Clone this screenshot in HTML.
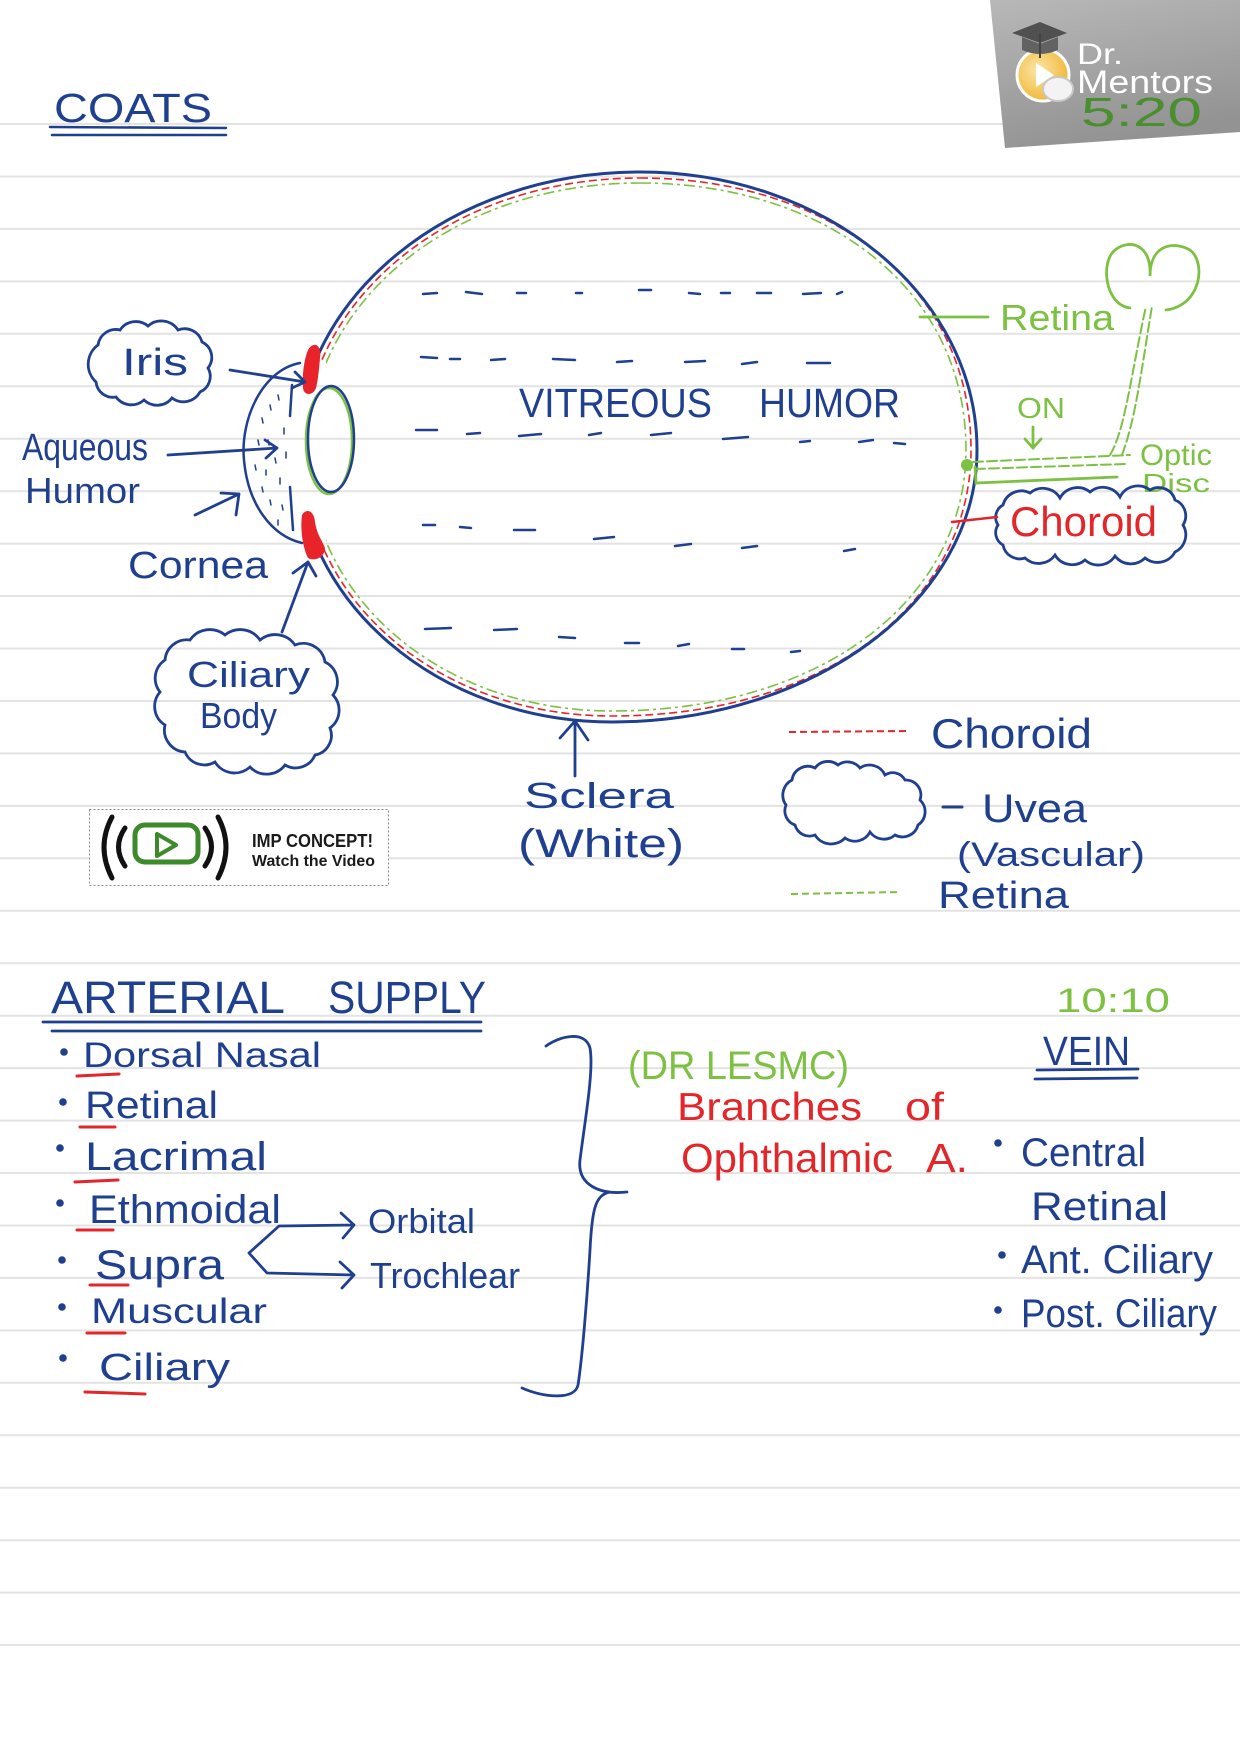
<!DOCTYPE html>
<html><head><meta charset="utf-8"><style>
html,body{margin:0;padding:0;background:#fff;}
svg{display:block;}
text{font-family:"Liberation Sans",sans-serif;}
</style></head><body>
<svg width="1240" height="1755" viewBox="0 0 1240 1755" xmlns="http://www.w3.org/2000/svg">
<defs>
<linearGradient id="lg" x1="0" y1="0" x2="0.3" y2="1"><stop offset="0" stop-color="#b8b8b8"/><stop offset="1" stop-color="#939393"/></linearGradient>
<radialGradient id="yg" cx="0.4" cy="0.4" r="0.6"><stop offset="0" stop-color="#fbe6a6"/><stop offset="1" stop-color="#f0b93c"/></radialGradient>
<mask id="eyemask"><rect x="0" y="0" width="1240" height="1755" fill="#fff"/><rect x="270" y="362" width="56" height="184" fill="#000"/></mask>
</defs>
<rect width="1240" height="1755" fill="#fff"/>
<!-- ruled lines -->
<g stroke="#e3e3e3" stroke-width="2">
<line x1="0" x2="1240" y1="124" y2="124"/><line x1="0" x2="1240" y1="176.5" y2="176.5"/><line x1="0" x2="1240" y1="228.9" y2="228.9"/><line x1="0" x2="1240" y1="281.4" y2="281.4"/><line x1="0" x2="1240" y1="333.8" y2="333.8"/><line x1="0" x2="1240" y1="386.3" y2="386.3"/><line x1="0" x2="1240" y1="438.7" y2="438.7"/><line x1="0" x2="1240" y1="491.2" y2="491.2"/><line x1="0" x2="1240" y1="543.6" y2="543.6"/><line x1="0" x2="1240" y1="596" y2="596"/><line x1="0" x2="1240" y1="648.5" y2="648.5"/><line x1="0" x2="1240" y1="701" y2="701"/><line x1="0" x2="1240" y1="753.4" y2="753.4"/><line x1="0" x2="1240" y1="805.9" y2="805.9"/><line x1="0" x2="1240" y1="858.3" y2="858.3"/><line x1="0" x2="1240" y1="910.8" y2="910.8"/><line x1="0" x2="1240" y1="963.2" y2="963.2"/><line x1="0" x2="1240" y1="1015.7" y2="1015.7"/><line x1="0" x2="1240" y1="1068.1" y2="1068.1"/><line x1="0" x2="1240" y1="1120.6" y2="1120.6"/><line x1="0" x2="1240" y1="1173" y2="1173"/><line x1="0" x2="1240" y1="1225.5" y2="1225.5"/><line x1="0" x2="1240" y1="1277.9" y2="1277.9"/><line x1="0" x2="1240" y1="1330.4" y2="1330.4"/><line x1="0" x2="1240" y1="1382.8" y2="1382.8"/><line x1="0" x2="1240" y1="1435.3" y2="1435.3"/><line x1="0" x2="1240" y1="1487.7" y2="1487.7"/><line x1="0" x2="1240" y1="1540.2" y2="1540.2"/><line x1="0" x2="1240" y1="1592.6" y2="1592.6"/><line x1="0" x2="1240" y1="1645" y2="1645"/>
</g>

<!-- Logo -->
<polygon points="990,0 1240,0 1240,132 1005,148" fill="url(#lg)"/>
<circle cx="1043" cy="75" r="26" fill="url(#yg)" stroke="#fff" stroke-width="3"/>
<polygon points="1036,63 1036,87 1054,75" fill="#fff"/>
<polygon points="1012,33 1040,22 1067,33 1040,43" fill="#505050"/>
<path d="M1022,37 L1022,50 Q1040,58 1058,50 L1058,37 L1040,44 Z" fill="#626262"/>
<line x1="1040" y1="33" x2="1040" y2="58" stroke="#444" stroke-width="2"/>
<ellipse cx="1058" cy="89" rx="15" ry="12" fill="#f3f3f3" stroke="#c8c8c8" stroke-width="2"/>
<text x="1077" y="64" font-size="30" fill="#fff" textLength="46" lengthAdjust="spacingAndGlyphs">Dr.</text>
<text x="1077" y="93" font-size="32" fill="#fff" textLength="136" lengthAdjust="spacingAndGlyphs">Mentors</text>
<text x="1081" y="126" font-size="41" fill="#4a8f2f" textLength="121" lengthAdjust="spacingAndGlyphs">5:20</text>

<!-- COATS -->
<text x="54" y="122" font-size="41" fill="#1f3f8f" textLength="158" lengthAdjust="spacingAndGlyphs">COATS</text>
<g stroke="#1f3f8f" stroke-width="2.5" stroke-linecap="round"><line x1="50" y1="127" x2="226" y2="128"/><line x1="52" y1="135" x2="226" y2="135"/></g>

<!-- Eye layers -->
<g mask="url(#eyemask)" fill="none">
<path d="M640,183 C822,183 966,286 966,450 C966,596 826,711 612,711 C440,711 308,596 308,452 C308,303 452,183 640,183 Z" stroke="#7cc142" stroke-width="1.6" stroke-dasharray="11 4 3 4"/>
<path d="M640,178 C826,178 971,283 971,450 C971,599 830,716 612,716 C437,716 303,599 303,452 C303,300 450,178 640,178 Z" stroke="#e3262a" stroke-width="1.6" stroke-dasharray="8 4"/>
<path d="M640,172 C826,172 977,296 977,450 C977,600 814,722 612,722 C438,722 297,601 297,452 C297,297 451,172 640,172 Z" stroke="#1f3f8f" stroke-width="3"/>
</g>
<!-- iris inner lines -->
<g stroke="#1f3f8f" stroke-width="2.5" stroke-linecap="round" fill="none">
<path d="M292,385 L290,416"/><path d="M290,487 L293,530"/>
<!-- cornea -->
<path d="M300,363 C262,370 240,420 244,460 C248,505 272,536 302,543"/>
</g>
<!-- cornea dots -->
<g stroke="#1f3f8f" stroke-width="1.5" stroke-linecap="round">
<line x1="262" y1="418" x2="263" y2="423"/><line x1="258" y1="440" x2="259" y2="445"/><line x1="270" y1="405" x2="271" y2="410"/><line x1="275" y1="458" x2="276" y2="463"/><line x1="266" y1="470" x2="266" y2="475"/><line x1="262" y1="487" x2="263" y2="492"/><line x1="270" y1="500" x2="271" y2="505"/><line x1="278" y1="520" x2="278" y2="525"/><line x1="284" y1="428" x2="284" y2="434"/><line x1="286" y1="452" x2="286" y2="458"/><line x1="280" y1="478" x2="280" y2="484"/><line x1="255" y1="465" x2="256" y2="470"/><line x1="278" y1="395" x2="279" y2="400"/><line x1="268" y1="440" x2="269" y2="445"/><line x1="282" y1="505" x2="283" y2="510"/>
</g>
<!-- lens -->
<ellipse cx="329" cy="441" rx="23" ry="53" fill="none" stroke="#7cc142" stroke-width="2.5"/>
<ellipse cx="331" cy="439" rx="23" ry="53" fill="none" stroke="#1f3f8f" stroke-width="2.5"/>
<!-- red blobs -->
<path d="M308,350 C314,340 322,345 320,358 C319,370 318,380 316,388 C313,396 304,396 303,388 C302,375 304,360 308,350 Z" fill="#e8232a"/>
<path d="M302,515 C306,508 314,510 315,522 C317,535 322,540 325,548 C325,557 315,562 308,558 C303,548 300,530 302,515 Z" fill="#e8232a"/>

<!-- vitreous dashes -->
<path stroke="#1f3f8f" stroke-width="2.5" stroke-linecap="round" fill="none" d="
M423,294 L437,293 M466,292 L482,294 M517,293 L526,293 M576,293 L582,293 M639,290 L651,290 M689,293 L700,294 M721,293 L730,293 M757,293 L771,293 M803,294 L821,293 M837,294 L842,292
M421,357 L437,358 M450,359 L460,359 M491,360 L505,359 M553,359 L575,360 M617,362 L632,361 M685,362 L705,361 M742,364 L757,362 M807,363 L830,363
M416,430 L437,430 M467,434 L480,433 M519,436 L541,434 M589,435 L601,433 M651,435 L671,433 M723,439 L748,437 M800,442 L810,441 M859,442 L873,440 M894,443 L905,444
M423,525 L435,525 M460,527 L471,528 M514,530 L535,530 M594,539 L614,537 M675,546 L691,544 M742,548 L757,546 M844,551 L855,549
M425,629 L451,628 M494,630 L517,629 M559,637 L575,638 M625,643 L639,643 M678,646 L689,644 M732,649 L744,649 M791,652 L800,651"/>
<text x="519" y="417" font-size="41" fill="#1f3f8f" textLength="193" lengthAdjust="spacingAndGlyphs">VITREOUS</text>
<text x="759" y="417" font-size="41" fill="#1f3f8f" textLength="141" lengthAdjust="spacingAndGlyphs">HUMOR</text>

<!-- Iris cloud -->
<path fill="none" stroke="#1f3f8f" stroke-width="2.8" d="M98,345 A18 18 0 0 1 120,330 A19 19 0 0 1 148,326 A20 20 0 0 1 178,330 A18 18 0 0 1 202,342 A17 17 0 0 1 208,368 A17 17 0 0 1 200,392 A19 19 0 0 1 172,398 A19 19 0 0 1 144,400 A19 19 0 0 1 116,397 A17 17 0 0 1 96,382 A24 24 0 0 1 98,345 Z"/>
<text x="122" y="375" font-size="38" fill="#1f3f8f" textLength="66" lengthAdjust="spacingAndGlyphs">Iris</text>
<!-- labels left -->
<text x="22" y="460" font-size="38" fill="#1f3f8f" textLength="126" lengthAdjust="spacingAndGlyphs">Aqueous</text>
<text x="25" y="503" font-size="36" fill="#1f3f8f" textLength="115" lengthAdjust="spacingAndGlyphs">Humor</text>
<text x="128" y="578" font-size="38" fill="#1f3f8f" textLength="140" lengthAdjust="spacingAndGlyphs">Cornea</text>
<!-- Ciliary cloud -->
<path fill="none" stroke="#1f3f8f" stroke-width="2.8" d="M165,660 A22 22 0 0 1 190,640 A24 24 0 0 1 225,635 A24 24 0 0 1 260,640 A24 24 0 0 1 295,645 A22 22 0 0 1 325,662 A22 22 0 0 1 333,695 A22 22 0 0 1 330,728 A20 20 0 0 1 315,755 A21 21 0 0 1 285,765 A23 23 0 0 1 250,767 A23 23 0 0 1 215,762 A21 21 0 0 1 185,752 A22 22 0 0 1 165,725 A22 22 0 0 1 160,692 A22 22 0 0 1 165,660 Z"/>
<text x="187" y="687" font-size="36" fill="#1f3f8f" textLength="123" lengthAdjust="spacingAndGlyphs">Ciliary</text>
<text x="200" y="728" font-size="36" fill="#1f3f8f" textLength="77" lengthAdjust="spacingAndGlyphs">Body</text>
<!-- arrows left -->
<g stroke="#1f3f8f" stroke-width="2.8" stroke-linecap="round" stroke-linejoin="round" fill="none">
<path d="M230,370 L305,382 M295,372 L305,382 L292,388"/>
<path d="M168,455 L277,448 M265,440 L277,448 L266,458"/>
<path d="M195,515 L239,494 M221,493 L239,494 L236,515"/>
<path d="M282,632 L308,562 M293,573 L308,562 L316,576"/>
<path d="M575,776 L575,721 M560,738 L575,721 L588,740"/>
</g>

<!-- right side: retina / optic -->
<g stroke="#7cc142" stroke-width="2.8" stroke-linecap="round" fill="none">
<path d="M920,317 L988,317"/>
<path d="M1130,308 C1105,305 1100,262 1115,250 C1130,238 1152,245 1150,276 C1150,246 1172,240 1190,250 C1206,262 1202,305 1166,310"/>
<path d="M975,467 L976,483 L1117,477"/>
<path d="M1033,427 L1033,448 M1025,439 L1033,448 L1041,439"/>
</g>
<g stroke="#7cc142" stroke-width="2" stroke-linecap="round" fill="none" stroke-dasharray="10 4">
<path d="M973,462 L1130,455"/><path d="M975,469 L1125,464"/>
<path d="M1110,455 C1125,430 1130,380 1146,306"/><path d="M1122,455 C1135,420 1140,380 1152,306"/>
</g>
<circle cx="967" cy="465" r="6" fill="#7cc142"/>
<text x="1000" y="330" font-size="36" fill="#7cc142" textLength="114" lengthAdjust="spacingAndGlyphs">Retina</text>
<text x="1017" y="418" font-size="29" fill="#7cc142" textLength="48" lengthAdjust="spacingAndGlyphs">ON</text>
<text x="1140" y="465" font-size="30" fill="#7cc142" textLength="72" lengthAdjust="spacingAndGlyphs">Optic</text>
<text x="1142" y="492" font-size="26" fill="#7cc142" textLength="68" lengthAdjust="spacingAndGlyphs">Disc</text>
<!-- Choroid cloud -->
<path fill="none" stroke="#1f3f8f" stroke-width="2.8" d="M1003,505 A19 19 0 0 1 1030,493 A20 20 0 0 1 1060,498 A20 20 0 0 1 1090,492 A20 20 0 0 1 1120,497 A20 20 0 0 1 1150,490 A17 17 0 0 1 1175,500 A17 17 0 0 1 1183,525 A19 19 0 0 1 1175,552 A20 20 0 0 1 1145,558 A20 20 0 0 1 1115,556 A20 20 0 0 1 1085,560 A20 20 0 0 1 1055,555 A20 20 0 0 1 1025,558 A17 17 0 0 1 1003,545 A14 14 0 0 1 998,525 A14 14 0 0 1 1003,505 Z"/>
<text x="1010" y="536" font-size="42" fill="#e3262a" textLength="147" lengthAdjust="spacingAndGlyphs">Choroid</text>
<path d="M952,522 L997,517" stroke="#e3262a" stroke-width="2.5" stroke-linecap="round"/>

<!-- Sclera label -->
<text x="524" y="808" font-size="36" fill="#1f3f8f" textLength="150" lengthAdjust="spacingAndGlyphs">Sclera</text>
<text x="518" y="857" font-size="40" fill="#1f3f8f" textLength="166" lengthAdjust="spacingAndGlyphs">(White)</text>

<!-- legend -->
<path d="M789,732 L908,731" stroke="#e3262a" stroke-width="2" stroke-dasharray="7 4"/>
<text x="931" y="748" font-size="42" fill="#1f3f8f" textLength="161" lengthAdjust="spacingAndGlyphs">Choroid</text>
<path fill="none" stroke="#1f3f8f" stroke-width="2.8" d="M792,780 A16 16 0 0 1 815,768 A16 16 0 0 1 838,765 A16 16 0 0 1 860,768 A17 17 0 0 1 885,775 A14 14 0 0 1 905,780 A15 15 0 0 1 920,800 A16 16 0 0 1 918,825 A16 16 0 0 1 895,835 A17 17 0 0 1 870,832 A17 17 0 0 1 845,838 A19 19 0 0 1 815,835 A15 15 0 0 1 795,825 A15 15 0 0 1 786,805 A17 17 0 0 1 792,780 Z"/>
<path d="M943,807 L962,807" stroke="#1f3f8f" stroke-width="3" stroke-linecap="round"/>
<text x="982" y="822" font-size="40" fill="#1f3f8f" textLength="105" lengthAdjust="spacingAndGlyphs">Uvea</text>
<text x="957" y="866" font-size="34" fill="#1f3f8f" textLength="188" lengthAdjust="spacingAndGlyphs">(Vascular)</text>
<path d="M791,894 L901,892" stroke="#7cc142" stroke-width="2" stroke-dasharray="7 4"/>
<text x="938" y="908" font-size="38" fill="#1f3f8f" textLength="131" lengthAdjust="spacingAndGlyphs">Retina</text>

<!-- IMP concept box -->
<rect x="89.5" y="809.5" width="299" height="76" fill="#fff" stroke="#8a8a8a" stroke-width="1" stroke-dasharray="2 2"/>
<g stroke="#111" stroke-width="5" stroke-linecap="round" fill="none">
<path d="M112,817 Q96,847 112,878"/><path d="M125,828 Q112,847 125,866"/>
<path d="M205,828 Q218,847 205,866"/><path d="M218,817 Q234,847 218,878"/>
</g>
<rect x="135" y="825" width="63" height="37" rx="10" fill="none" stroke="#3d8a2d" stroke-width="5"/>
<polygon points="157,834 157,856 176,845" fill="none" stroke="#3d8a2d" stroke-width="4" stroke-linejoin="round"/>
<text x="252" y="847" font-size="18" font-weight="bold" fill="#1a1a1a" textLength="121" lengthAdjust="spacingAndGlyphs">IMP CONCEPT!</text>
<text x="252" y="866" font-size="16" font-weight="bold" fill="#1a1a1a" textLength="123" lengthAdjust="spacingAndGlyphs">Watch the Video</text>

<!-- ARTERIAL SUPPLY -->
<text x="51" y="1013" font-size="45" fill="#1f3f8f" textLength="234" lengthAdjust="spacingAndGlyphs">ARTERIAL</text>
<text x="328" y="1013" font-size="45" fill="#1f3f8f" textLength="158" lengthAdjust="spacingAndGlyphs">SUPPLY</text>
<g stroke="#1f3f8f" stroke-width="2.8" stroke-linecap="round"><line x1="43" y1="1022" x2="481" y2="1022"/><line x1="52" y1="1031" x2="481" y2="1031"/></g>
<text x="1056" y="1012" font-size="34" fill="#7cc142" textLength="114" lengthAdjust="spacingAndGlyphs">10:10</text>
<text x="1043" y="1065" font-size="41" fill="#1f3f8f" textLength="87" lengthAdjust="spacingAndGlyphs">VEIN</text>
<g stroke="#1f3f8f" stroke-width="2.8" stroke-linecap="round"><line x1="1037" y1="1070" x2="1138" y2="1069"/><line x1="1035" y1="1079" x2="1137" y2="1078"/></g>

<!-- list -->
<g fill="#1f3f8f">
<circle cx="64" cy="1052" r="3.8"/><circle cx="63" cy="1102" r="3.8"/><circle cx="60" cy="1148" r="3.8"/><circle cx="60" cy="1203" r="3.8"/><circle cx="62" cy="1260" r="3.8"/><circle cx="62" cy="1307" r="3.8"/><circle cx="63" cy="1358" r="3.8"/>
<circle cx="998" cy="1143" r="3.8"/><circle cx="1002" cy="1255" r="3.8"/><circle cx="998" cy="1310" r="3.8"/>
</g>
<text x="83" y="1067" font-size="35" fill="#1f3f8f" textLength="238" lengthAdjust="spacingAndGlyphs">Dorsal Nasal</text>
<text x="85" y="1118" font-size="38" fill="#1f3f8f" textLength="133" lengthAdjust="spacingAndGlyphs">Retinal</text>
<text x="85" y="1170" font-size="40" fill="#1f3f8f" textLength="182" lengthAdjust="spacingAndGlyphs">Lacrimal</text>
<text x="89" y="1223" font-size="40" fill="#1f3f8f" textLength="192" lengthAdjust="spacingAndGlyphs">Ethmoidal</text>
<text x="95" y="1279" font-size="42" fill="#1f3f8f" textLength="129" lengthAdjust="spacingAndGlyphs">Supra</text>
<text x="91" y="1323" font-size="35" fill="#1f3f8f" textLength="176" lengthAdjust="spacingAndGlyphs">Muscular</text>
<text x="99" y="1380" font-size="38" fill="#1f3f8f" textLength="131" lengthAdjust="spacingAndGlyphs">Ciliary</text>
<g stroke="#e3262a" stroke-width="3" stroke-linecap="round">
<line x1="77" y1="1076" x2="119" y2="1074"/><line x1="80" y1="1127" x2="115" y2="1127"/><line x1="75" y1="1182" x2="118" y2="1180"/><line x1="77" y1="1230" x2="113" y2="1230"/><line x1="90" y1="1285" x2="128" y2="1285"/><line x1="87" y1="1333" x2="125" y2="1333"/><line x1="85" y1="1392" x2="145" y2="1394"/>
</g>
<!-- supra arrows -->
<g stroke="#1f3f8f" stroke-width="2.8" stroke-linecap="round" stroke-linejoin="round" fill="none">
<path d="M249,1253 L279,1226 L354,1225 M341,1213 L354,1225 L343,1238"/>
<path d="M249,1253 L267,1273 L354,1275 M340,1262 L354,1275 L342,1288"/>
<!-- brace -->
<path d="M546,1046 C560,1036 585,1030 590,1048 C594,1070 585,1120 580,1160 C577,1185 600,1195 627,1192 M610,1192 C595,1195 592,1210 590,1250 C587,1300 582,1360 578,1385 C575,1400 545,1398 522,1388"/>
</g>
<text x="368" y="1233" font-size="34" fill="#1f3f8f" textLength="107" lengthAdjust="spacingAndGlyphs">Orbital</text>
<text x="370" y="1288" font-size="36" fill="#1f3f8f" textLength="150" lengthAdjust="spacingAndGlyphs">Trochlear</text>

<!-- middle -->
<text x="628" y="1079" font-size="40" fill="#7cc142" textLength="221" lengthAdjust="spacingAndGlyphs">(DR LESMC)</text>
<text x="677" y="1120" font-size="39" fill="#e3262a" textLength="185" lengthAdjust="spacingAndGlyphs">Branches</text>
<text x="905" y="1120" font-size="39" fill="#e3262a" textLength="39" lengthAdjust="spacingAndGlyphs">of</text>
<text x="681" y="1172" font-size="41" fill="#e3262a" textLength="212" lengthAdjust="spacingAndGlyphs">Ophthalmic</text>
<text x="926" y="1172" font-size="41" fill="#e3262a" textLength="42" lengthAdjust="spacingAndGlyphs">A.</text>

<!-- vein list -->
<text x="1021" y="1166" font-size="40" fill="#1f3f8f" textLength="125" lengthAdjust="spacingAndGlyphs">Central</text>
<text x="1031" y="1220" font-size="40" fill="#1f3f8f" textLength="137" lengthAdjust="spacingAndGlyphs">Retinal</text>
<text x="1021" y="1273" font-size="40" fill="#1f3f8f" textLength="192" lengthAdjust="spacingAndGlyphs">Ant. Ciliary</text>
<text x="1021" y="1327" font-size="40" fill="#1f3f8f" textLength="196" lengthAdjust="spacingAndGlyphs">Post. Ciliary</text>
</svg>
</body></html>
